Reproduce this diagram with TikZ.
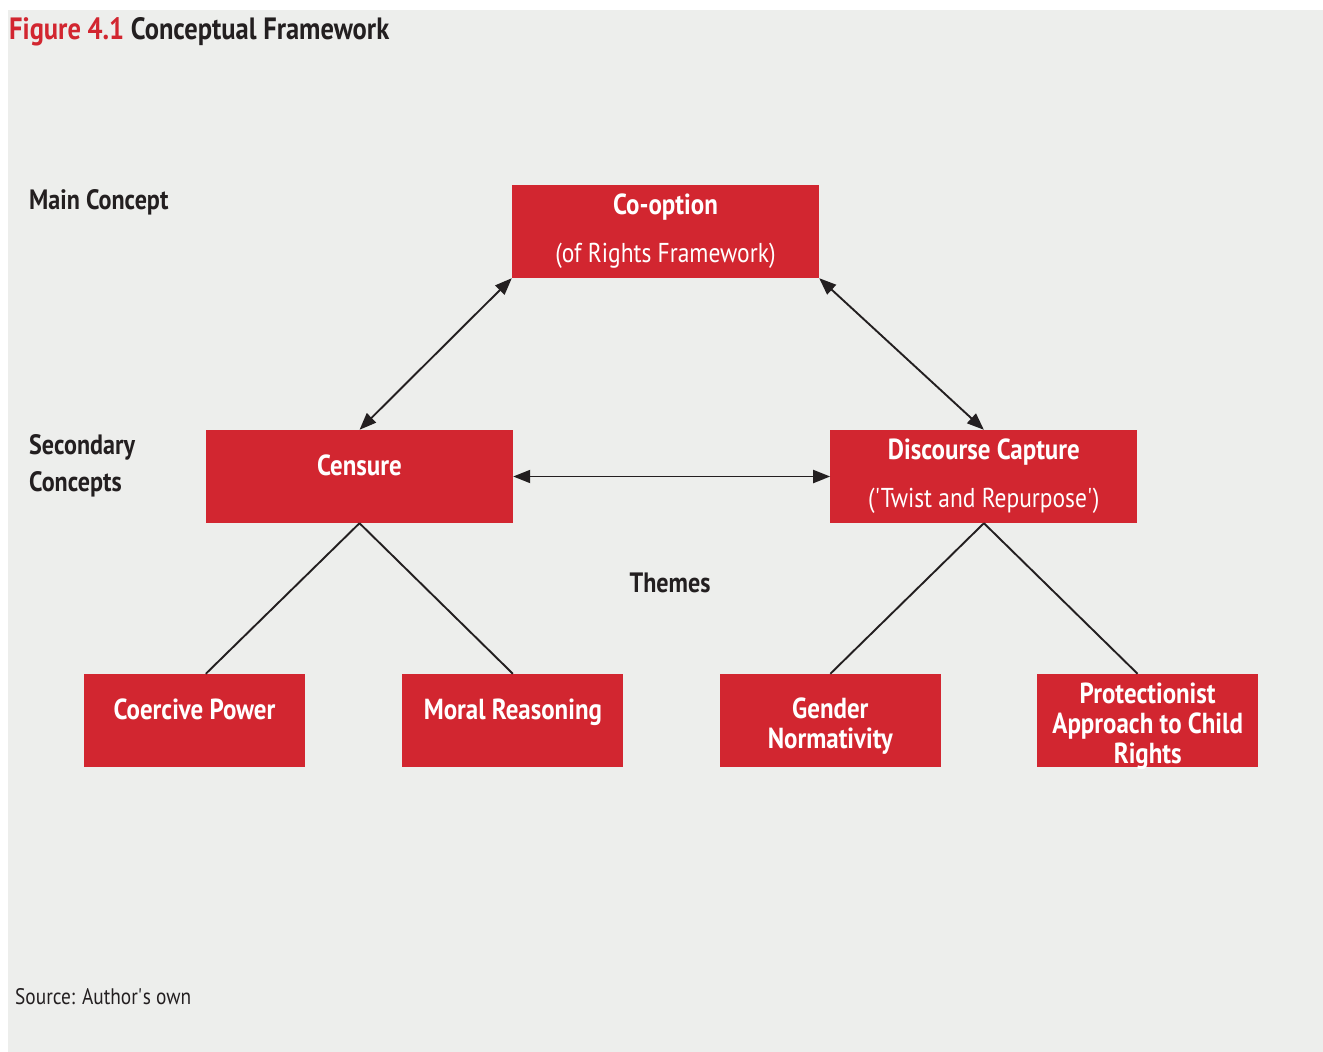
\documentclass[tikz,border=0pt]{standalone}
\usepackage{fontspec}
\setmainfont{PT Sans}[FakeStretch=0.86]
\usetikzlibrary{positioning, arrows.meta}
\definecolor{figred}{HTML}{D22630}
\definecolor{figgrey}{HTML}{EDEEEC}
\definecolor{figink}{HTML}{231F20}

\begin{document}
\begin{tikzpicture}[x=1pt, y=-1pt,
  every node/.style={font=\fontsize{27.3}{30}\selectfont, text=figink},
  conceptbox/.style={fill=figred, text=white, minimum width=307pt, minimum height=93pt, align=center, inner sep=0pt},
  themebox/.style={conceptbox, minimum width=221pt, font=\bfseries\fontsize{29}{30}\selectfont},
  oneline/.style={text depth=23pt},
  sidelabel/.style={font=\bfseries\fontsize{28}{37}\selectfont, anchor=west, align=left, inner sep=0pt},
  link/.style={{Triangle[length=17pt,width=13pt]}-{Triangle[length=17pt,width=13pt]}, line width=1.9pt, draw=figink},
  branch/.style={line width=1.9pt, draw=figink}]

  \useasboundingbox (0,0) rectangle (1323,1052);
  \fill[figgrey] (8,10) rectangle (1323,1052);

  % heading and row labels
  \node[anchor=west, inner sep=0pt, font=\bfseries\fontsize{30.8}{30.8}\selectfont] (title) at (9,32) {\textcolor{figred}{Figure 4.1} Conceptual Framework};
  \node[sidelabel] (mainlbl) at (29,202) {Main Concept};
  \node[sidelabel] (seclbl) at (29,465.5) {Secondary\\Concepts};
  \node[inner sep=0pt, font=\bfseries\fontsize{28}{28}\selectfont] (themes) at (670,583) {Themes};
  \node[anchor=west, inner sep=0pt, font=\fontsize{22.5}{22.5}\selectfont] (source) at (15,997) {Source: Author\textquotesingle s own};

  % concepts
  \node[conceptbox] (coopt) at (665.5,231.5) {\bfseries\fontsize{29}{30}\selectfont Co-option\\[18pt](of Rights Framework)};
  \node[conceptbox, oneline] (censure) at (359.5,476.5) {\bfseries\fontsize{29}{30}\selectfont Censure};
  \node[conceptbox, right=317pt of censure] (capture) {\bfseries\fontsize{29}{30}\selectfont Discourse Capture\\[18pt](\textquotesingle Twist and Repurpose\textquotesingle)};

  % themes
  \node[themebox, oneline] (coercive) at (194.5,720.5) {Coercive Power};
  \node[themebox, oneline, right=97pt of coercive] (moral) {Moral Reasoning};
  \node[themebox, text height=62pt, right=96pt of moral] (gender) {Gender\\Normativity};
  \node[themebox, text height=85pt, text depth=0pt, right=96pt of gender] (protect) {Protectionist\\Approach to Child\\Rights};

  \draw[link] (coopt.south west) -- (censure.north);
  \draw[link] (coopt.south east) -- (capture.north);
  \draw[link] (censure) -- (capture);
  \draw[branch] (censure.south) -- (censure.south west |- coercive.north);
  \draw[branch] (censure.south) -- (moral.north);
  \draw[branch] (capture.south) -- (gender.north);
  \draw[branch] (capture.south) -- (capture.south east |- protect.north);
\end{tikzpicture}
\end{document}
